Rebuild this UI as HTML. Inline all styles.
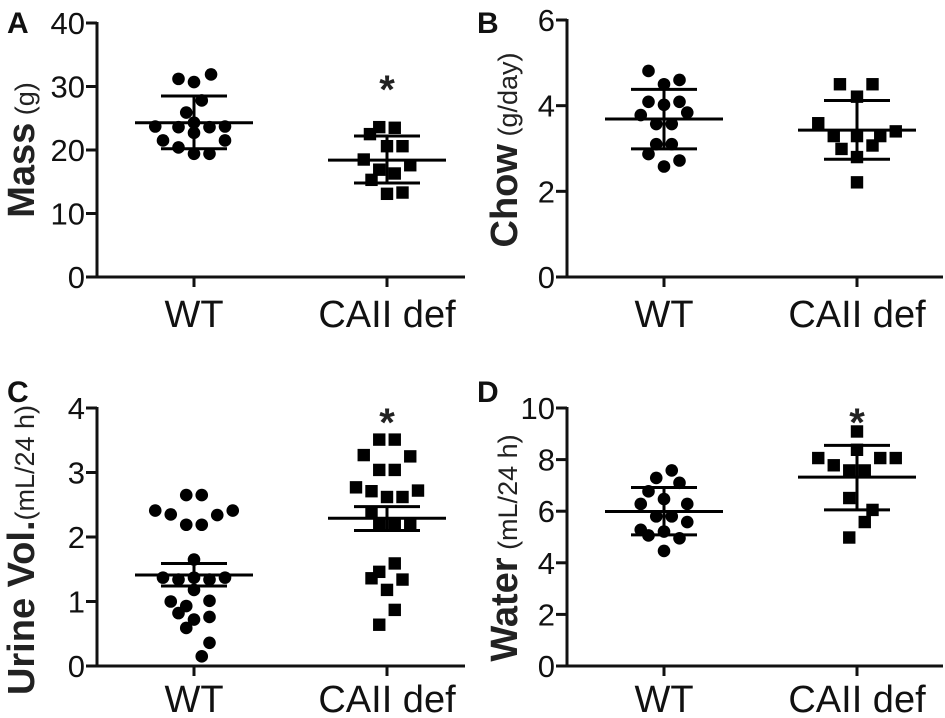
<!DOCTYPE html>
<html><head><meta charset="utf-8">
<style>
html,body{margin:0;padding:0;background:#fff;}
svg{display:block;font-family:"Liberation Sans",Arial,sans-serif;}
</style></head>
<body>
<svg id="fig" width="945" height="718" viewBox="0 0 945 718"></svg>
<script>
// Data per panel
const categories = ["WT", "CAII def"];
const massWT = [31.2,30.7,31.9,27.8,25.9,23.7,23.6,24.3,23.6,23.7,22.7,21.5,21.5,20.4,19.4,19.4];
const massKO = [23.6,23.5,22.5,20.6,20.6,18.5,17.6,16.9,16.3,15.3,13.1,13.3];
const massStats = [[24.3,28.5,20.2],[18.4,22.2,14.8]];
const chowWT = [4.81,4.5,4.6,4.09,4.02,4.09,3.78,3.84,3.57,3.57,3.1,3.1,2.87,2.72,2.58];
const chowKO = [4.5,4.5,4.21,3.59,3.29,3.29,3.29,3.4,2.99,3.07,2.8,2.21];
const chowStats = [[3.69,4.38,2.99],[3.43,4.12,2.75]];
const urineWT = [2.65,2.65,2.41,2.35,2.34,2.41,2.19,2.19,1.65,1.37,1.34,1.37,1.34,1.37,1.18,1.0,1.01,0.93,0.82,0.72,0.76,0.59,0.36,0.15];
const urineKO = [3.51,3.51,3.27,3.25,3.04,3.04,2.77,2.71,2.62,2.62,2.72,2.39,2.21,2.21,2.21,1.59,1.46,1.36,1.34,1.18,0.87,0.64];
const urineStats = [[1.41,1.59,1.24],[2.29,2.47,2.1]];
const waterWT = [7.58,7.29,7.1,6.77,6.47,6.28,6.28,5.8,5.8,5.58,5.28,5.21,5.06,4.95,4.46];
const waterKO = [9.09,8.38,8.06,8.06,8.06,7.78,7.58,7.58,6.51,6.05,5.58,4.98];
const waterStats = [[5.99,6.92,5.08],[7.32,8.55,6.05]];
const massTicks = [0,10,20,30,40];
const chowTicks = [0,2,4,6];
const urineTicks = [0,1,2,3,4];
const waterTicks = [0,2,4,6,8,10];

// horizontal scatter column per point (layout only, in column units)
const massWTcol = [-1,0,1.1,0.5,-0.5,-2.5,-1,0,1,2,0,-2,2,-1,0,1];
const massKOcol = [-0.5,0.5,-1.1,0,1,-1.5,1.5,-0.5,0.5,-1,0,1];
const chowWTcol = [-1,0,1,-1,0,1,-1.5,1.5,-0.5,0.5,-0.5,0.5,-1,1,0];
const chowKOcol = [-1.1,1,0,-2.5,-1.5,0,1.5,2.5,-1,1,0,0];
const urineWTcol = [-0.5,0.5,-2.5,-1.5,1.5,2.5,-0.5,0.5,0,-2,-1,0,1,2,0,-1.5,1,-0.5,-1,0,1,-0.5,1,0.5];
const urineKOcol = [-0.5,0.5,-1.5,1.5,-0.5,0.5,-2,-1,0,1,2,-1,-0.5,0.5,1.5,0.5,-0.5,-1,1,0,0.5,-0.5];
const waterWTcol = [0.5,-0.5,1,-1,0,-1.5,1.5,-0.5,0.5,1.5,-1.5,0,-1,1,0];
const waterKOcol = [0,0,-2.5,1.5,2.5,-1.5,-0.5,0.5,-0.5,1,0.5,-0.5];

const NS = "http://www.w3.org/2000/svg";
const svg = document.getElementById('fig');
function mk(tag, attrs, parent, text){
  const e = document.createElementNS(NS, tag);
  for (const k in attrs) e.setAttribute(k, attrs[k]);
  if (text !== undefined) e.textContent = text;
  (parent||svg).appendChild(e);
  return e;
}
const COLW = 15.5;

const panels = [
  {key:'mass', letter:'A', lx:7, ly:33, ax:97, top:23, bot:277, xend:465, max:40, ticks:massTicks, wt:massWT, ko:massKO, cols:[massWTcol,massKOcol], st:massStats, bold:'Mass', unit:' (g)', tx:34, ty:150, star:true, xlabY:327},
  {key:'chow', letter:'B', lx:477, ly:33, ax:567, top:20, bot:277, xend:943, max:6, ticks:chowTicks, wt:chowWT, ko:chowKO, cols:[chowWTcol,chowKOcol], st:chowStats, bold:'Chow', unit:'  (g/day)', tx:517, ty:150, star:false, xlabY:327},
  {key:'urine', letter:'C', lx:7, ly:402, ax:97, top:408, bot:666, xend:465, max:4, ticks:urineTicks, wt:urineWT, ko:urineKO, cols:[urineWTcol,urineKOcol], st:urineStats, bold:'Urine Vol.', unit:'(mL/24 h)', tx:34, ty:550, star:true, xlabY:712},
  {key:'water', letter:'D', lx:477, ly:402, ax:567, top:408, bot:666, xend:943, max:10, ticks:waterTicks, wt:waterWT, ko:waterKO, cols:[waterWTcol,waterKOcol], st:waterStats, bold:'Water', unit:' (mL/24 h)', tx:517, ty:548, star:true, xlabY:712}
];

panels.forEach(p=>{
  const g = mk('g', {});
  
  
  const y = v => p.bot - (v / p.max) * (p.bot - p.top);
  const cx = [p.ax + 97, p.ax + 290];
  const lt = mk('text', {x:p.lx, y:p.ly, 'font-size':30, 'font-weight':'bold', fill:'#111'}, g, p.letter);
  
  
  const ya = mk('line', {x1:p.ax, y1:p.top-1, x2:p.ax, y2:p.bot+1.5, stroke:'#111', 'stroke-width':3}, g);
  
  
  const xa = mk('line', {x1:p.ax-1.5, y1:p.bot, x2:p.xend, y2:p.bot, stroke:'#111', 'stroke-width':3}, g);
  
  
  p.ticks.forEach(t=>{
    const ty = y(t);
    mk('line', {x1:p.ax-11, y1:ty, x2:p.ax, y2:ty, stroke:'#111', 'stroke-width':3}, g);
    const tl = mk('text', {x:p.ax-12, y:ty+11, 'font-size':31, 'text-anchor':'end', fill:'#111'}, g, String(t));
    
    
  });
  categories.forEach((c,i)=>{
    mk('line', {x1:cx[i], y1:p.bot, x2:cx[i], y2:p.bot+10, stroke:'#111', 'stroke-width':3}, g);
    const xl = mk('text', {x:cx[i], y:p.xlabY, 'font-size':38, 'text-anchor':'middle', fill:'#111'}, g, c);
    
    
  });
  const yt = mk('text', {x:0, y:0, transform:`translate(${p.tx},${p.ty}) rotate(-90)`, 'text-anchor':'middle', fill:'#222'}, g);
  
  
  mk('tspan', {'font-size':38, 'font-weight':'bold'}, yt, p.bold);
  mk('tspan', {'font-size':27}, yt, p.unit);
  [p.wt, p.ko].forEach((vals, gi)=>{
    vals.forEach((v,i)=>{
      const px = cx[gi] + (p.cols[gi][i] || 0) * COLW;
      let m;
      if (gi === 0) m = mk('circle', {cx:px, cy:y(v), r:6.3, fill:'#000'}, g);
      else m = mk('rect', {x:px-6.2, y:y(v)-6.2, width:12.4, height:12.4, fill:'#000'}, g);
      
      
    });
    const s = p.st[gi];
    const ml = mk('line', {x1:cx[gi]-59, y1:y(s[0]), x2:cx[gi]+59, y2:y(s[0]), stroke:'#000', 'stroke-width':3}, g);
    
    
    mk('line', {x1:cx[gi], y1:y(s[1]), x2:cx[gi], y2:y(s[2]), stroke:'#000', 'stroke-width':3}, g);
    [s[1], s[2]].forEach(e=>{
      const eb = mk('line', {x1:cx[gi]-33, y1:y(e), x2:cx[gi]+33, y2:y(e), stroke:'#000', 'stroke-width':3}, g);
      
      
    });
  });
  if (p.star){
    const topv = Math.max(...p.ko, p.st[1][1]);
    const sy = p.key === 'mass' ? y(topv) - 24 : p.top + 28;
    const st = mk('text', {x:cx[1], y:sy, 'font-size':40, 'font-weight':'bold', 'text-anchor':'middle', fill:'#222'}, g, '*');
    
    
  }
});
</script>
</body></html>
